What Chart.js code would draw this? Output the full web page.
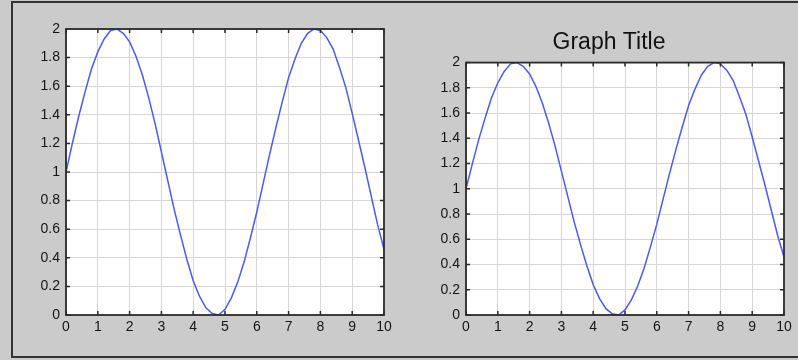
<!DOCTYPE html>
<html>
<head>
<meta charset="utf-8">
<script src="https://cdn.jsdelivr.net/npm/chart.js@4"></script>
<style>
  html, body { margin: 0; padding: 0; background: #cbcbcb; }
  body { width: 798px; height: 360px; position: relative; overflow: hidden; }
  #frame { position: absolute; left: 11px; top: 1px; width: 800px; height: 357px;
           border-top: 2px solid #333; border-left: 2px solid #333; border-bottom: 2px solid #333; box-sizing: border-box; }
  .box { position: absolute; top: 0; width: 400px; height: 360px; }
</style>
</head>
<body>
<div id="frame"></div>
<div class="box" style="left:0"><canvas id="left"></canvas></div>
<div class="box" style="left:400px"><canvas id="right"></canvas></div>
<script>
// values, one every 0.2 along x
const xValues = [0, 0.2, 0.4, 0.6, 0.8, 1, 1.2, 1.4, 1.6, 1.8, 2, 2.2, 2.4, 2.6, 2.8, 3, 3.2, 3.4, 3.6, 3.8,
  4, 4.2, 4.4, 4.6, 4.8, 5, 5.2, 5.4, 5.6, 5.8, 6, 6.2, 6.4, 6.6, 6.8, 7, 7.2, 7.4, 7.6, 7.8,
  8, 8.2, 8.4, 8.6, 8.8, 9, 9.2, 9.4, 9.6, 9.8, 10];
const yValues = [1.00, 1.20, 1.39, 1.56, 1.72, 1.84, 1.93, 1.99, 2.00, 1.97, 1.91, 1.81, 1.68, 1.52, 1.34, 1.14, 0.94, 0.74, 0.56, 0.39,
  0.24, 0.13, 0.05, 0.01, 0.00, 0.04, 0.12, 0.23, 0.37, 0.54, 0.72, 0.92, 1.12, 1.31, 1.49, 1.66, 1.79, 1.90, 1.97, 2.00,
  1.99, 1.94, 1.86, 1.73, 1.59, 1.41, 1.22, 1.03, 0.83, 0.63, 0.46];
const xTicks = ['0', '1', '2', '3', '4', '5', '6', '7', '8', '9', '10'];
const yTicks = ['0', '0.2', '0.4', '0.6', '0.8', '1', '1.2', '1.4', '1.6', '1.8', '2'];
const titleText = 'Graph Title';

const points = xValues.map((x, i) => ({ x: x, y: yValues[i] }));
const fontFamily = 'Liberation Sans, Arial, sans-serif';

// box with inward tick marks on all four sides
const framePlugin = {
  id: 'frame',
  afterDraw(chart) {
    const c = chart.ctx, a = chart.chartArea;
    const xs = chart.scales.x, ys = chart.scales.y;
    c.save();
    c.strokeStyle = '#2a2a2a';
    c.lineWidth = 1.5;
    c.beginPath();
    xs.ticks.forEach(t => {
      const px = xs.getPixelForValue(t.value);
      c.moveTo(px, a.top); c.lineTo(px, a.top + 4);
      c.moveTo(px, a.bottom); c.lineTo(px, a.bottom - 4);
    });
    ys.ticks.forEach(t => {
      const py = ys.getPixelForValue(t.value);
      c.moveTo(a.left, py); c.lineTo(a.left + 4, py);
      c.moveTo(a.right, py); c.lineTo(a.right - 4, py);
    });
    c.stroke();
    c.lineWidth = 1.8;
    c.strokeRect(a.left, a.top, a.right - a.left, a.bottom - a.top);
    c.restore();
  }
};

const whiteArea = {
  id: 'whiteArea',
  beforeDraw(chart) {
    const c = chart.ctx, a = chart.chartArea;
    c.save();
    c.fillStyle = '#fff';
    c.fillRect(a.left, a.top, a.right - a.left, a.bottom - a.top);
    c.restore();
  }
};

function makeChart(id, withTitle) {
  return new Chart(document.getElementById(id), {
    type: 'line',
    data: {
      datasets: [{
        data: points,
        borderColor: 'rgb(72,90,255)',
        borderWidth: 1.5,
        pointRadius: 0,
        tension: 0,
        fill: false
      }]
    },
    options: {
      responsive: true,
      maintainAspectRatio: false,
      animation: false,
      layout: {
        padding: { left: 34, right: 16, top: withTitle ? 21 : 29, bottom: 15 }
      },
      plugins: {
        legend: { display: false },
        tooltip: { enabled: false },
        title: {
          display: withTitle,
          text: titleText,
          color: '#111',
          font: { family: fontFamily, size: 23, weight: 'normal', lineHeight: 1.2 },
          padding: { top: 8, bottom: 6 }
        }
      },
      scales: {
        x: {
          type: 'linear',
          min: 0, max: 10,
          afterFit(s) { s.height = 30; },
          ticks: {
            stepSize: 1,
            autoSkip: false,
            maxRotation: 0,
            padding: 4,
            color: '#151515',
            font: { family: fontFamily, size: 14 },
            callback: (v, i) => xTicks[i]
          },
          grid: { color: '#d6d6d6', lineWidth: 1, drawTicks: false },
          border: { display: false }
        },
        y: {
          min: 0, max: 2,
          afterFit(s) { s.width = 32; },
          ticks: {
            stepSize: 0.2,
            autoSkip: false,
            padding: 6,
            color: '#151515',
            font: { family: fontFamily, size: 14 },
            callback: (v, i) => yTicks[i]
          },
          grid: { color: '#d6d6d6', lineWidth: 1, drawTicks: false },
          border: { display: false }
        }
      }
    },
    plugins: [whiteArea, framePlugin]
  });
}

makeChart('left', false);
makeChart('right', true);
</script>
</body>
</html>
